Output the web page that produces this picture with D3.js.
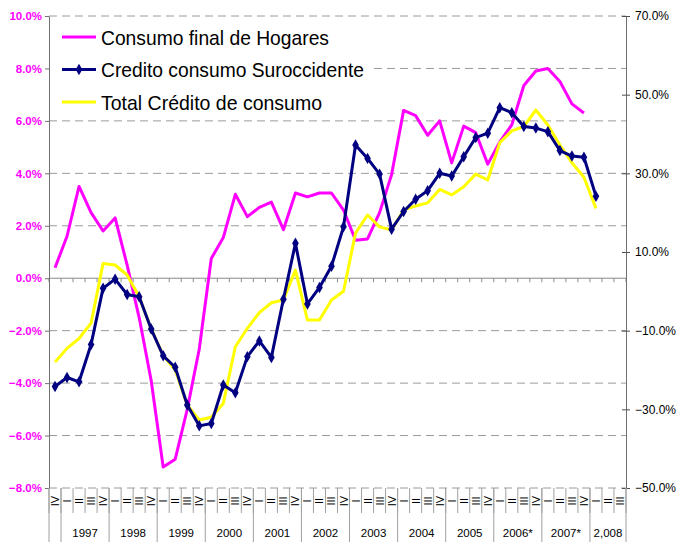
<!DOCTYPE html>
<html>
<head>
<meta charset="utf-8">
<script src="https://cdn.jsdelivr.net/npm/d3@7"></script>
<style>
  body { margin: 0; background: #fff; }
  svg { display: block; font-family: "Liberation Sans", Arial, sans-serif; }
</style>
</head>
<body>
<div id="chart"></div>
<script>
// quarter labels, 1996 IV .. 2008 III
var quarters = ["IV",
    "I","II","III","IV", "I","II","III","IV", "I","II","III","IV", "I","II","III","IV",
    "I","II","III","IV", "I","II","III","IV", "I","II","III","IV", "I","II","III","IV",
    "I","II","III","IV", "I","II","III","IV", "I","II","III","IV", "I","II","III"];

// year groups under the quarters
var yearLabels = ["", "1997", "1998", "1999", "2000", "2001", "2002", "2003", "2004", "2005", "2006*", "2007*", "2,008"];
var yearSpans  = [1, 4, 4, 4, 4, 4, 4, 4, 4, 4, 4, 4, 3];

var seriesNames = ["Consumo final de Hogares", "Credito consumo Suroccidente", "Total Crédito de consumo"];

// left axis (%)
var hogares = [0.4, 1.6, 3.5, 2.5, 1.8, 2.3, 0.5, -1.5, -3.9, -7.2,
    -6.9, -5.0, -2.7, 0.75, 1.55, 3.2, 2.35, 2.7, 2.9, 1.85,
    3.25, 3.1, 3.25, 3.25, 2.6, 1.45, 1.5, 2.5, 3.95, 6.4,
    6.2, 5.45, 6.0, 4.4, 5.8, 5.55, 4.35, 5.2, 5.85, 7.35,
    7.9, 8.0, 7.5, 6.65, 6.3, null, null, null];

// right axis (%)
var suroccidente = [-24.2, -21.9, -23.0, -13.5, 0.8, 3.1, -0.8, -1.4, -9.6, -16.4,
    -19.3, -28.9, -34.2, -33.6, -23.8, -25.8, -16.6, -12.6, -16.8, -2.0,
    12.2, -3.2, 1.0, 6.4, 16.4, 37.2, 33.8, 29.8, 15.8, 20.3,
    23.4, 25.6, 30.0, 29.3, 34.2, 39.1, 40.2, 46.7, 45.4, 41.9,
    41.5, 40.6, 35.8, 34.4, 34.1, 24.2, null, null];

var totalCredito = [-18.0, -14.5, -12.0, -8.1, 7.1, 6.7, 4.15, -1.4, -9.6, -16.3,
    -20.0, -28.9, -32.7, -32.0, -28.5, -14.1, -9.4, -5.4, -2.9, -2.2,
    5.4, -7.3, -7.3, -2.2, 0.0, 14.8, 19.4, 16.4, 15.6, 20.7,
    21.7, 22.5, 25.9, 24.5, 26.6, 29.8, 28.3, 37.8, 40.8, 41.9,
    46.1, 42.3, 37.2, 32.7, 29.0, 21.1, null, null];

var leftTicks  = [-8, -6, -4, -2, 0, 2, 4, 6, 8, 10];
var rightTicks = [-50, -30, -10, 10, 30, 50, 70];

/**
 * Constructor for the combo chart
 */
function ComboChart(){
    var self = this;
    self.init();
};

ComboChart.prototype.init = function(){
    var self = this;
    self.width = 689;
    self.height = 542;
    self.plot = {left: 49, right: 626, top: 16, bottom: 488};

    self.svg = d3.select("#chart").append("svg")
        .attr("width", self.width)
        .attr("height", self.height);

    self.x = d3.scaleBand()
        .domain(d3.range(quarters.length))
        .range([self.plot.left, self.plot.right])
        .padding(0);

    self.yLeft = d3.scaleLinear().domain([-8, 10]).range([self.plot.bottom, self.plot.top]);
    self.yRight = d3.scaleLinear().domain([-50, 70]).range([self.plot.bottom, self.plot.top]);
};

ComboChart.prototype.cx = function(i){
    return this.x(i) + this.x.bandwidth() / 2;
};

ComboChart.prototype.update = function(){
    var self = this;
    var svg = self.svg;
    var fmt = d3.format(".1f");

    //dashed gridlines from the left axis
    svg.append("g").selectAll("line")
        .data(leftTicks.filter(function(d){ return d != 0; }))
        .enter().append("line")
        .attr("x1", self.plot.left)
        .attr("x2", self.plot.right)
        .attr("y1", function(d){ return self.yLeft(d); })
        .attr("y2", function(d){ return self.yLeft(d); })
        .attr("stroke", "#9a9a9a")
        .attr("stroke-dasharray", "8,5");

    //category axis sitting on zero
    var zeroY = self.yLeft(0);
    svg.append("line")
        .attr("x1", self.plot.left).attr("x2", self.plot.right)
        .attr("y1", zeroY).attr("y2", zeroY)
        .attr("stroke", "#8a8a8a");
    svg.append("g").selectAll("line")
        .data(d3.range(quarters.length + 1))
        .enter().append("line")
        .attr("x1", function(k){ return self.plot.left + k * self.x.step(); })
        .attr("x2", function(k){ return self.plot.left + k * self.x.step(); })
        .attr("y1", zeroY)
        .attr("y2", zeroY + 4)
        .attr("stroke", "#8a8a8a");

    //left axis
    var leftAxis = d3.axisLeft(self.yLeft)
        .tickValues(leftTicks)
        .tickSize(4)
        .tickSizeOuter(0)
        .tickPadding(3)
        .tickFormat(function(d){ return fmt(d) + "%"; });
    var gl = svg.append("g")
        .attr("transform", "translate(" + self.plot.left + ",0)")
        .call(leftAxis);
    gl.select(".domain").attr("stroke", "#707070");
    gl.selectAll(".tick line").attr("stroke", "#707070");
    gl.selectAll(".tick text")
        .attr("fill", "#ff00ff")
        .style("font-size", "11.5px")
        .style("font-weight", "bold")
        .style("font-family", "'Liberation Sans', Arial, sans-serif");

    //right axis
    var rightAxis = d3.axisRight(self.yRight)
        .tickValues(rightTicks)
        .tickSize(4)
        .tickSizeOuter(0)
        .tickPadding(5)
        .tickFormat(function(d){ return fmt(d) + "%"; });
    var gr = svg.append("g")
        .attr("transform", "translate(" + self.plot.right + ",0)")
        .call(rightAxis);
    gr.select(".domain").attr("stroke", "#707070");
    gr.selectAll(".tick line").attr("x1", -4).attr("stroke", "#505050");
    gr.selectAll(".tick text")
        .attr("fill", "#000")
        .style("font-size", "12px")
        .style("font-family", "'Liberation Sans', Arial, sans-serif");

    //series lines
    var lineLeft = d3.line()
        .defined(function(d){ return d != null; })
        .x(function(d, i){ return self.cx(i); })
        .y(function(d){ return self.yLeft(d); });
    var lineRight = d3.line()
        .defined(function(d){ return d != null; })
        .x(function(d, i){ return self.cx(i); })
        .y(function(d){ return self.yRight(d); });

    svg.append("path").datum(hogares)
        .attr("d", lineLeft)
        .attr("fill", "none")
        .attr("stroke", "#ff00ff")
        .attr("stroke-width", 3)
        .attr("stroke-linejoin", "round");

    svg.append("path").datum(totalCredito)
        .attr("d", lineRight)
        .attr("fill", "none")
        .attr("stroke", "#ffff00")
        .attr("stroke-width", 3)
        .attr("stroke-linejoin", "round");

    svg.append("path").datum(suroccidente)
        .attr("d", lineRight)
        .attr("fill", "none")
        .attr("stroke", "#000080")
        .attr("stroke-width", 3)
        .attr("stroke-linejoin", "round");

    var diamond = d3.symbol().type(d3.symbolDiamond).size(38);
    svg.append("g").selectAll("path")
        .data(suroccidente.map(function(d, i){ return {v: d, i: i}; })
              .filter(function(d){ return d.v != null; }))
        .enter().append("path")
        .attr("d", diamond)
        .attr("transform", function(d){
            return "translate(" + self.cx(d.i) + "," + self.yRight(d.v) + ")";
        })
        .attr("fill", "#000080");

    //quarter labels and separators below the plot
    var base = self.plot.bottom;
    svg.append("g").selectAll("line")
        .data(d3.range(quarters.length + 1))
        .enter().append("line")
        .attr("x1", function(k){ return self.plot.left + k * self.x.step(); })
        .attr("x2", function(k){ return self.plot.left + k * self.x.step(); })
        .attr("y1", base)
        .attr("y2", base + 25)
        .attr("stroke", "#a0a0a0");

    svg.append("g").selectAll("text")
        .data(quarters)
        .enter().append("text")
        .attr("transform", function(d, i){
            return "translate(" + self.cx(i) + "," + (base + 13) + ") rotate(-90)";
        })
        .attr("text-anchor", "middle")
        .attr("dominant-baseline", "central")
        .style("font-size", "11px")
        .text(function(d){ return d; });

    //year groups
    var starts = [];
    var acc = 0;
    yearSpans.forEach(function(n){ starts.push(acc); acc += n; });
    starts.push(acc);

    svg.append("g").selectAll("line")
        .data(starts)
        .enter().append("line")
        .attr("x1", function(k){ return self.plot.left + k * self.x.step(); })
        .attr("x2", function(k){ return self.plot.left + k * self.x.step(); })
        .attr("y1", base)
        .attr("y2", self.height)
        .attr("stroke", "#a0a0a0");

    svg.append("g").selectAll("text")
        .data(yearLabels)
        .enter().append("text")
        .attr("x", function(d, j){
            return self.plot.left + (starts[j] + yearSpans[j] / 2) * self.x.step();
        })
        .attr("y", base + 45)
        .attr("text-anchor", "middle")
        .attr("dominant-baseline", "central")
        .style("font-size", "11.5px")
        .text(function(d){ return d; });

    //legend
    var legend = svg.append("g");
    legend.append("rect")
        .attr("x", self.plot.left + 1).attr("y", 21)
        .attr("width", 320).attr("height", 95)
        .attr("fill", "#fff");

    var legendColors = ["#ff00ff", "#000080", "#ffff00"];
    var legendWidths = [228, 263, 221];
    var rows = legend.selectAll(".item")
        .data(seriesNames)
        .enter().append("g")
        .attr("class", "item")
        .attr("transform", function(d, i){ return "translate(62," + (37 + i * 32.5) + ")"; });

    rows.append("line")
        .attr("x1", 0).attr("x2", 34)
        .attr("stroke", function(d, i){ return legendColors[i]; })
        .attr("stroke-width", 3);

    rows.filter(function(d, i){ return i == 1; })
        .append("path")
        .attr("d", diamond)
        .attr("transform", "translate(17,0)")
        .attr("fill", "#000080");

    rows.append("text")
        .attr("x", 39)
        .attr("dominant-baseline", "central")
        .attr("textLength", function(d, i){ return legendWidths[i]; })
        .attr("lengthAdjust", "spacingAndGlyphs")
        .style("font-size", "21px")
        .text(function(d){ return d; });
};

var chart = new ComboChart();
chart.update();
</script>
</body>
</html>
